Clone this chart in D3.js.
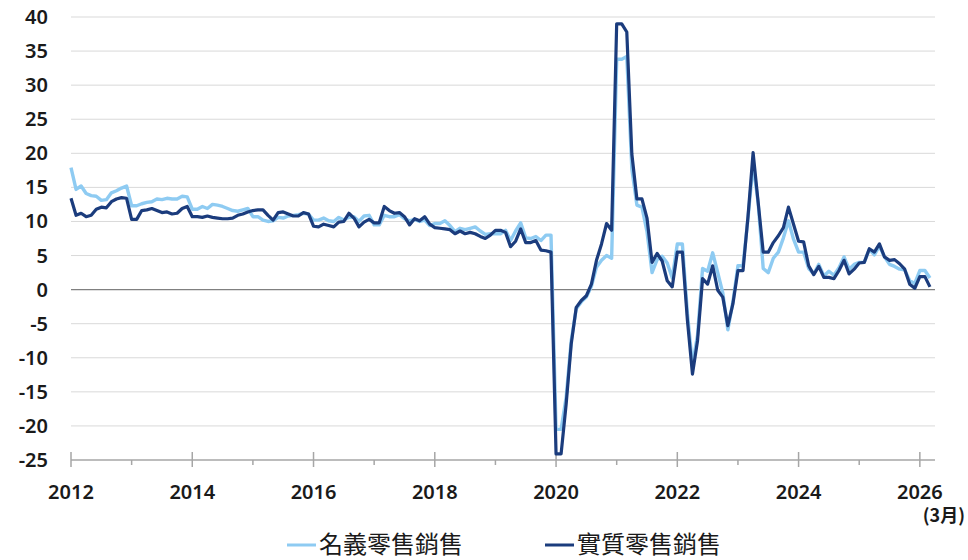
<!DOCTYPE html>
<html>
<head>
<meta charset="utf-8">
<script src="https://cdn.jsdelivr.net/npm/d3@7"></script>
<style>
html,body{margin:0;padding:0;background:#fff;}
svg{display:block;}
</style>
</head>
<body>
<svg id="chart" width="968" height="560"></svg>
<script>
// Monthly data, Jan 2012 – Mar 2026 (YoY %)
const startYear = 2012;
const nominal = [
  17.9, 14.7, 15.2, 14.1, 13.8, 13.7, 13.1, 13.2, 14.2, 14.5, 14.9, 15.2,
  12.3, 12.3, 12.6, 12.8, 12.9, 13.3, 13.2, 13.4, 13.3, 13.3, 13.7, 13.6,
  11.8, 11.8, 12.2, 11.9, 12.5, 12.4, 12.2, 11.9, 11.6, 11.5, 11.7, 11.9,
  10.7, 10.7, 10.2, 10.0, 10.1, 10.6, 10.5, 10.8, 10.9, 11.0, 11.2, 11.1,
  10.2, 10.2, 10.5, 10.1, 10.0, 10.6, 10.2, 10.6, 10.7, 10.0, 10.8, 10.9,
  9.5, 9.5, 10.9, 10.7, 10.7, 11.0, 10.4, 10.1, 10.3, 10.0, 10.2, 9.4,
  9.7, 9.7, 10.1, 9.4, 8.5, 9.0, 8.8, 9.0, 9.2, 8.6, 8.1, 8.2,
  8.2, 8.2, 8.7, 7.2, 8.6, 9.8, 7.6, 7.5, 7.8, 7.2, 8.0, 8.0,
  -20.5, -20.5, -15.8, -7.5, -2.8, -1.8, -1.1, 0.5, 3.3, 4.3, 5.0, 4.6,
  33.8, 33.8, 34.2, 17.7, 12.4, 12.1, 8.5, 2.5, 4.4, 4.9, 3.9, 1.7,
  6.7, 6.7, -3.5, -11.1, -6.7, 3.1, 2.7, 5.4, 2.5, -0.5, -5.9, -1.8,
  3.5, 3.5, 10.6, 18.4, 12.7, 3.1, 2.5, 4.6, 5.5, 7.6, 10.1, 7.4,
  5.5, 5.5, 3.1, 2.3, 3.7, 2.0, 2.7, 2.1, 3.2, 4.8, 3.0, 3.7,
  4.0, 4.0, 5.9, 5.1, 6.4, 4.8, 3.7, 3.4, 3.0, 2.9, 1.3, 0.9,
  2.8, 2.8, 1.7
];
const real = [
  13.4, 10.9, 11.2, 10.7, 10.9, 11.8, 12.1, 12.0, 12.9, 13.3, 13.5, 13.4,
  10.3, 10.3, 11.6, 11.7, 11.9, 11.6, 11.3, 11.4, 11.1, 11.2, 11.9, 12.2,
  10.7, 10.7, 10.6, 10.8, 10.6, 10.5, 10.4, 10.4, 10.5, 10.9, 11.1, 11.4,
  11.6, 11.7, 11.7, 10.9, 10.2, 11.3, 11.4, 11.1, 10.8, 10.8, 11.3, 11.1,
  9.3, 9.2, 9.6, 9.4, 9.2, 9.9, 10.0, 11.2, 10.5, 9.2, 9.9, 10.3,
  9.8, 9.8, 12.2, 11.6, 11.2, 11.3, 10.7, 9.5, 10.4, 10.1, 10.7, 9.6,
  9.1, 9.0, 8.9, 8.8, 8.2, 8.6, 8.2, 8.4, 8.2, 7.8, 7.5, 8.0,
  8.7, 8.7, 8.4, 6.3, 7.1, 8.9, 6.9, 6.9, 7.2, 5.8, 5.7, 5.5,
  -24.1, -24.1, -16.8, -8.0, -2.6, -1.6, -0.9, 0.8, 4.3, 6.7, 9.7, 8.7,
  39.0, 39.0, 37.8, 19.9, 13.3, 13.3, 10.5, 4.0, 5.3, 4.2, 1.3, 0.4,
  5.5, 5.5, -4.5, -12.4, -7.5, 1.6, 0.8, 3.5, -0.1, -1.1, -5.3, -2.1,
  2.8, 2.8, 10.8, 20.1, 12.8, 5.5, 5.5, 6.9, 7.9, 9.1, 12.1, 9.6,
  7.1, 7.0, 3.5, 2.2, 3.4, 1.8, 1.8, 1.6, 2.8, 4.3, 2.3, 3.0,
  3.9, 4.0, 6.0, 5.5, 6.7, 4.8, 4.3, 4.4, 3.8, 3.0, 0.8, 0.2,
  1.9, 1.9, 0.4
];
const yTicks = [40, 35, 30, 25, 20, 15, 10, 5, 0, -5, -10, -15, -20, -25];
const xYears = [2012, 2013, 2014, 2015, 2016, 2017, 2018, 2019, 2020, 2021, 2022, 2023, 2024, 2025, 2026];
const xLabels = ["2012", "2014", "2016", "2018", "2020", "2022", "2024", "2026"];
const lastLabel = "(3月)";
const seriesNames = ["名義零售銷售", "實質零售銷售"];
const colors = ["#8ECBF2", "#1B3C7D"];

const svg = d3.select("#chart");
const x = d3.scaleLinear().domain([2012, 2026.25]).range([71, 935]);
const y = d3.scaleLinear().domain([-25, 40]).range([460, 17]);
const tOf = i => startYear + i / 12;

const fontNum = "'Noto Sans', 'Open Sans', sans-serif";

// gridlines
svg.append("g").selectAll("line").data(yTicks.filter(v => v !== -25 && v !== 0)).join("line")
  .attr("x1", x(2012)).attr("x2", x(2026.25))
  .attr("y1", d => y(d)).attr("y2", d => y(d))
  .attr("stroke", "#d9d9d9").attr("stroke-width", 1);

// y labels
svg.append("g").selectAll("text").data(yTicks).join("text")
  .attr("x", 48).attr("y", d => y(d))
  .attr("dy", "0.35em")
  .attr("text-anchor", "end")
  .attr("font-family", fontNum).attr("font-size", 20).attr("font-weight", 600)
  .attr("fill", "#1a1a1a")
  .text(d => d);

// zero line
svg.append("line")
  .attr("x1", x(2012)).attr("x2", x(2026.25))
  .attr("y1", y(0)).attr("y2", y(0))
  .attr("stroke", "#808080").attr("stroke-width", 1.3);

// bottom axis
const axisG = svg.append("g").attr("transform", `translate(0,${y(-25)})`);
axisG.append("line").attr("x1", x(2012)).attr("x2", x(2026.25))
  .attr("stroke", "#a6a6a6").attr("stroke-width", 1.5);
axisG.selectAll("line.tick").data(xYears).join("line").attr("class", "tick")
  .attr("x1", d => x(d)).attr("x2", d => x(d))
  .attr("y1", d => (d % 2 === 0 ? -8 : 0)).attr("y2", d => (d % 2 === 0 ? 7 : 5))
  .attr("stroke", "#a6a6a6").attr("stroke-width", 1.5);

svg.append("g").selectAll("text").data(xLabels).join("text")
  .attr("x", d => x(+d)).attr("y", 492)
  .attr("dy", "0.35em").attr("text-anchor", "middle")
  .attr("font-family", fontNum).attr("font-size", 20).attr("font-weight", 600)
  .attr("fill", "#1a1a1a")
  .text(d => d);
svg.append("text")
  .attr("x", 965).attr("y", 516).attr("dy", "0.35em").attr("text-anchor", "end")
  .attr("font-family", "'Noto Sans CJK TC', 'Noto Sans', sans-serif").attr("font-size", 18).attr("font-weight", 600)
  .attr("fill", "#1a1a1a")
  .text(lastLabel);

// lines
const line = d3.line().x((d, i) => x(tOf(i))).y(d => y(d)).curve(d3.curveLinear);
svg.append("path").datum(nominal).attr("d", line)
  .attr("fill", "none").attr("stroke", colors[0]).attr("stroke-width", 3.4)
  .attr("stroke-linejoin", "round");
svg.append("path").datum(real).attr("d", line)
  .attr("fill", "none").attr("stroke", colors[1]).attr("stroke-width", 3.2)
  .attr("stroke-linejoin", "round");

// legend
const legendX = [287, 545];
const lg = svg.append("g");
seriesNames.forEach((name, i) => {
  lg.append("line").attr("x1", legendX[i]).attr("x2", legendX[i] + 29)
    .attr("y1", 545).attr("y2", 545)
    .attr("stroke", colors[i]).attr("stroke-width", 3);
  lg.append("text").attr("x", legendX[i] + 32).attr("y", 545).attr("dy", "0.35em")
    .attr("font-family", "'Noto Sans CJK TC', sans-serif").attr("font-size", 24)
    .attr("fill", "#1a1a1a").text(name);
});
</script>
</body>
</html>
